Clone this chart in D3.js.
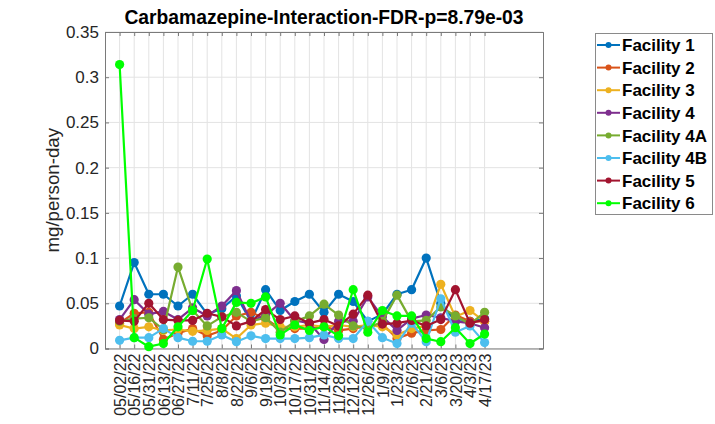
<!DOCTYPE html>
<html>
<head>
<meta charset="utf-8">
<script src="https://cdn.jsdelivr.net/npm/d3@7"></script>
<style>
  html, body { margin: 0; padding: 0; background: #fff; }
  svg { display: block; font-family: "Liberation Sans", Arial, Helvetica, sans-serif; }
</style>
</head>
<body>
<svg id="chart" width="715" height="424"></svg>
<script>
// Sampling dates (x categories)
const dates = ["05/02/22","05/16/22","05/31/22","06/13/22","06/27/22","7/11/22","7/25/22","8/8/22",
  "8/22/22","9/6/22","9/19/22","10/3/22","10/17/22","10/31/22","11/14/22","11/28/22","12/12/22",
  "12/26/22","1/9/23","1/23/23","2/6/23","2/21/23","3/6/23","3/20/23","4/3/23","4/17/23"];

const facilityNames = ["Facility 1","Facility 2","Facility 3","Facility 4","Facility 4A","Facility 4B","Facility 5","Facility 6"];

// Carbamazepine load per facility, mg/person-day
const facility1  = [0.047,0.095,0.060,0.060,0.047,0.060,0.038,0.044,0.058,0.030,0.065,0.042,0.052,0.060,0.040,0.060,0.052,0.030,0.038,0.060,0.065,0.100,0.050,0.030,0.030,0.033];
const facility2  = [0.028,0.039,0.040,0.010,0.017,0.022,0.014,0.020,0.036,0.040,0.033,0.022,0.022,0.022,0.024,0.020,0.022,0.025,0.027,0.011,0.017,0.020,0.021,0.037,0.030,0.030];
const facility3  = [0.026,0.022,0.024,0.020,0.021,0.019,0.020,0.022,0.011,0.026,0.028,0.024,0.024,0.026,0.024,0.026,0.024,0.026,0.024,0.015,0.022,0.025,0.071,0.035,0.042,0.030];
const facility4  = [0.032,0.054,0.038,0.041,0.032,0.045,0.036,0.047,0.064,0.030,0.037,0.050,0.031,0.028,0.010,0.030,0.030,0.057,0.035,0.020,0.033,0.037,0.034,0.030,0.028,0.023];
const facility4A = [0.030,0.033,0.034,0.021,0.090,0.042,0.025,0.035,0.040,0.030,0.034,0.018,0.030,0.036,0.049,0.037,0.025,0.022,0.030,0.059,0.030,0.031,0.046,0.036,0.027,0.040];
const facility4B = [0.009,0.012,0.012,0.022,0.012,0.008,0.008,0.015,0.0075,0.014,0.011,0.011,0.011,0.012,0.015,0.011,0.011,0.030,0.012,0.0055,0.028,0.0075,0.055,0.018,0.025,0.0065];
const facility5  = [0.031,0.030,0.050,0.032,0.031,0.031,0.039,0.035,0.025,0.030,0.043,0.032,0.036,0.028,0.032,0.025,0.038,0.059,0.027,0.028,0.031,0.025,0.032,0.065,0.028,0.032];
const facility6  = [0.314,0.012,0.002,0.0055,0.024,0.042,0.099,0.022,0.051,0.050,0.057,0.015,0.026,0.020,0.024,0.014,0.065,0.018,0.042,0.036,0.036,0.011,0.0075,0.023,0.0055,0.016];

const seriesValues = [facility1, facility2, facility3, facility4, facility4A, facility4B, facility5, facility6];
const colors = ["#0072BD","#D95319","#EDB120","#7E2F8E","#77AC30","#4DBEEE","#A2142F","#00FF00"];
const yTicks = [0, 0.05, 0.1, 0.15, 0.2, 0.25, 0.3, 0.35];

const titleText = "Carbamazepine-Interaction-FDR-p=8.79e-03";
const yLabel = "mg/person-day";

const svg = d3.select("#chart");
const box = { left: 105, right: 543, top: 32, bottom: 348.5 };

const x = d3.scaleLinear().domain([0, 30]).range([box.left, box.right]);
const y = d3.scaleLinear().domain([0, 0.35]).range([box.bottom, box.top]);
const xIdx = dates.map((d, i) => i + 1);

const axisColor = "#262626";
const frameColor = "#7a7a7a";

// grid
const grid = svg.append("g");
grid.selectAll("line.gx").data(xIdx).join("line")
  .attr("x1", d => x(d)).attr("x2", d => x(d))
  .attr("y1", box.top).attr("y2", box.bottom)
  .attr("stroke", "#e3e3e3").attr("stroke-width", 1);
grid.selectAll("line.gy").data(yTicks).join("line")
  .attr("x1", box.left).attr("x2", box.right)
  .attr("y1", d => y(d)).attr("y2", d => y(d))
  .attr("stroke", "#e3e3e3").attr("stroke-width", 1);

// axes with inward ticks on all four sides
const tickLen = 4;
const yAxisL = d3.axisLeft(y).tickValues(yTicks).tickSize(-tickLen).tickPadding(6).tickFormat(d3.format("~g"));
const yAxisR = d3.axisRight(y).tickValues(yTicks).tickSize(-tickLen).tickFormat("");
const xAxisB = d3.axisBottom(x).tickValues(xIdx).tickSize(-tickLen).tickFormat((d) => dates[d - 1]);
const xAxisT = d3.axisTop(x).tickValues(xIdx).tickSize(-tickLen).tickFormat("");

const gyl = svg.append("g").attr("transform", `translate(${box.left},0)`).call(yAxisL);
gyl.selectAll("text").attr("font-size", 17).attr("fill", axisColor);
const gyr = svg.append("g").attr("transform", `translate(${box.right},0)`).call(yAxisR);
const gxb = svg.append("g").attr("transform", `translate(0,${box.bottom})`).call(xAxisB);
gxb.selectAll("text")
  .attr("font-size", 16).attr("fill", axisColor)
  .attr("transform", "rotate(-90)")
  .attr("text-anchor", "end")
  .attr("x", -5).attr("y", 0).attr("dy", "0.35em");
const gxt = svg.append("g").attr("transform", `translate(0,${box.top})`).call(xAxisT);

[gyl, gyr, gxb, gxt].forEach(g => {
  g.select(".domain").attr("stroke", frameColor);
  g.selectAll(".tick line").attr("stroke", frameColor);
});

// series
const line = d3.line().x((d, i) => x(i + 1)).y(d => y(d));
const plot = svg.append("g");
seriesValues.forEach((vals, k) => {
  const g = plot.append("g");
  g.append("path").datum(vals)
    .attr("d", line).attr("fill", "none")
    .attr("stroke", colors[k]).attr("stroke-width", 2.2).attr("stroke-linejoin", "round");
  g.selectAll("circle").data(vals).join("circle")
    .attr("cx", (d, i) => x(i + 1)).attr("cy", d => y(d)).attr("r", 4.6)
    .attr("fill", colors[k]);
});

// title and axis label
svg.append("text")
  .attr("x", (box.left + box.right) / 2).attr("y", 24)
  .attr("text-anchor", "middle").attr("font-size", 19.3).attr("font-weight", "bold")
  .attr("fill", "#000").text(titleText);

svg.append("text")
  .attr("transform", `translate(59,${(box.top + box.bottom) / 2}) rotate(-90)`)
  .attr("text-anchor", "middle").attr("font-size", 18.7).attr("fill", axisColor)
  .text(yLabel);

// legend
const legend = svg.append("g");
legend.append("rect")
  .attr("x", 595.5).attr("y", 33.5).attr("width", 117).attr("height", 181)
  .attr("fill", "#fff").attr("stroke", "#8a8a8a").attr("stroke-width", 1);
facilityNames.forEach((name, k) => {
  const cy = 45 + k * 22.6;
  legend.append("line").attr("x1", 597).attr("x2", 620).attr("y1", cy).attr("y2", cy)
    .attr("stroke", colors[k]).attr("stroke-width", 2);
  legend.append("circle").attr("cx", 608.5).attr("cy", cy).attr("r", 3).attr("fill", colors[k]);
  legend.append("text").attr("x", 622).attr("y", cy).attr("dy", "0.36em")
    .attr("font-size", 17).attr("font-weight", "bold").attr("fill", "#000").text(name);
});
</script>
</body>
</html>
